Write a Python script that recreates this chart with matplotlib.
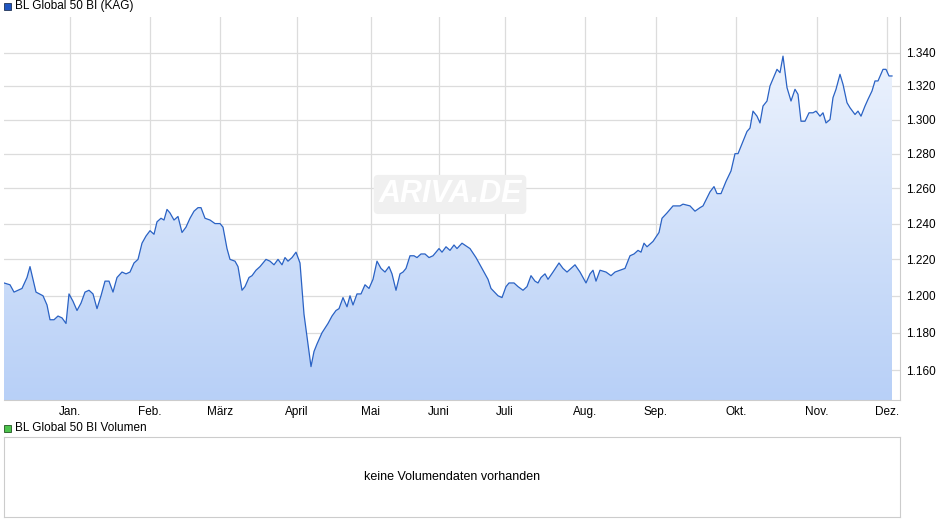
import numpy as np
import matplotlib
matplotlib.use("Agg")
import matplotlib.pyplot as plt
from matplotlib.patches import Polygon

# reading positions along the time axis (chart units) and fund prices
t = [4, 10, 14, 22, 27, 30, 33, 36, 43, 47, 50, 54, 58, 62, 66, 69, 73, 77, 81, 85, 89, 93, 97, 101,
     105, 109, 113, 117, 122, 126, 130, 134, 138, 142, 146, 150, 154, 157, 161, 164, 167, 170, 174,
     178, 182, 186, 190, 194, 198, 201, 205, 210, 215, 220, 223, 227, 230, 235, 238, 242, 245, 249,
     252, 256, 260, 266, 270, 274, 278, 282, 285, 288, 292, 296, 300, 304, 311, 314, 317, 322, 328,
     332, 336, 339, 343, 347, 350, 353, 357, 361, 365, 369, 373, 377, 381, 385, 389, 392, 396, 400,
     403, 406, 410, 414, 417, 421, 425, 429, 433, 439, 442, 446, 450, 454, 457, 462, 470, 476, 477,
     483, 488, 491, 498, 502, 506, 509, 514, 518, 523, 527, 531, 535, 538, 541, 545, 548, 553, 559,
     563, 567, 575, 580, 586, 590, 593, 596, 600, 606, 611, 615, 620, 625, 630, 634, 638, 641, 644,
     647, 653, 659, 662, 667, 673, 680, 683, 690, 695, 700, 703, 710, 714, 717, 721, 726, 731, 735,
     738, 747, 750, 753, 757, 760, 763, 767, 770, 777, 780, 783, 787, 791, 795, 798, 801, 805, 809,
     813, 816, 820, 823, 826, 830, 833, 836, 840, 843, 847, 850, 855, 858, 861, 865, 868, 872, 875,
     878, 883, 886, 889, 892]
price = [1.207, 1.206, 1.202, 1.204, 1.210, 1.216, 1.209, 1.202, 1.200, 1.195, 1.187, 1.187, 1.189,
         1.188, 1.185, 1.201, 1.197, 1.192, 1.196, 1.202, 1.203, 1.201, 1.193, 1.200, 1.208, 1.208,
         1.202, 1.210, 1.213, 1.212, 1.213, 1.218, 1.220, 1.229, 1.233, 1.236, 1.234, 1.241, 1.243,
         1.242, 1.248, 1.246, 1.242, 1.244, 1.235, 1.238, 1.243, 1.247, 1.249, 1.249, 1.243, 1.242,
         1.240, 1.240, 1.238, 1.226, 1.220, 1.219, 1.216, 1.203, 1.205, 1.210, 1.211, 1.214, 1.216,
         1.220, 1.219, 1.217, 1.220, 1.217, 1.221, 1.219, 1.221, 1.224, 1.218, 1.190, 1.162, 1.170,
         1.174, 1.180, 1.185, 1.189, 1.192, 1.193, 1.199, 1.194, 1.200, 1.195, 1.201, 1.201, 1.206,
         1.204, 1.209, 1.219, 1.215, 1.213, 1.216, 1.212, 1.203, 1.212, 1.213, 1.215, 1.222, 1.222,
         1.221, 1.223, 1.223, 1.221, 1.222, 1.226, 1.224, 1.227, 1.225, 1.228, 1.226, 1.229, 1.226,
         1.221, 1.220, 1.214, 1.209, 1.204, 1.200, 1.199, 1.205, 1.207, 1.207, 1.205, 1.203, 1.205,
         1.211, 1.208, 1.207, 1.210, 1.212, 1.209, 1.213, 1.218, 1.215, 1.213, 1.217, 1.213, 1.207,
         1.212, 1.214, 1.208, 1.214, 1.213, 1.211, 1.213, 1.214, 1.215, 1.222, 1.223, 1.225, 1.224,
         1.229, 1.227, 1.230, 1.235, 1.243, 1.246, 1.250, 1.250, 1.251, 1.250, 1.247, 1.249, 1.250,
         1.258, 1.261, 1.257, 1.257, 1.264, 1.270, 1.280, 1.280, 1.293, 1.295, 1.305, 1.302, 1.298,
         1.308, 1.311, 1.320, 1.330, 1.328, 1.338, 1.319, 1.311, 1.318, 1.315, 1.299, 1.299, 1.304,
         1.304, 1.305, 1.302, 1.304, 1.298, 1.300, 1.313, 1.318, 1.327, 1.321, 1.310, 1.307, 1.303,
         1.305, 1.302, 1.308, 1.312, 1.317, 1.323, 1.323, 1.330, 1.330, 1.326, 1.326]

months = ["Jan.", "Feb.", "März", "April", "Mai", "Juni", "Juli", "Aug.", "Sep.", "Okt.", "Nov.", "Dez."]
month_pos = [70, 150, 220, 297, 371, 439, 505, 585, 656, 736, 817, 887]
yticks = [1.16, 1.18, 1.20, 1.22, 1.24, 1.26, 1.28, 1.30, 1.32, 1.34]

plt.rcParams['font.family'] = ['Liberation Sans', 'DejaVu Sans']
fig = plt.figure(figsize=(9.4, 5.26), dpi=100)
ax = fig.add_axes([4 / 940, 126 / 526, 896 / 940, 383 / 526])
ax.set_yscale('log')
ymin, ymax = 1.1445, 1.362
ax.set_xlim(4, 900)
ax.set_ylim(ymin, ymax)

# gradient fill under the line
grad = np.linspace(0, 1, 256).reshape(-1, 1)
cmap = matplotlib.colors.LinearSegmentedColormap.from_list('g', ['#b8d0f7', '#f3f7fe'])
im = ax.imshow(grad, cmap=cmap, aspect='auto', extent=[4, 900, ymin, ymax], origin='lower', zorder=1)
poly = Polygon(list(zip(t, price)) + [(t[-1], ymin), (t[0], ymin)], closed=True,
               transform=ax.transData, facecolor='none', edgecolor='none')
ax.add_patch(poly)
im.set_clip_path(poly)
ax.plot(t, price, color='#2a62c4', lw=0.9, zorder=3)

ax.set_yticks(yticks)
ax.set_yticks([], minor=True)
ax.set_yticklabels(['%.3f' % v for v in yticks], fontsize=8.5)
ax.yaxis.tick_right()
ax.set_xticks(month_pos)
ax.set_xticklabels(months, fontsize=8.5)
ax.tick_params(length=0, pad=4)
ax.grid(True, color='#dcdcdc', lw=0.9, zorder=0)
ax.set_axisbelow(True)
for s in ax.spines.values():
    s.set_visible(False)
ax.spines['right'].set_visible(True)
ax.spines['right'].set_color('#cccccc')
ax.spines['bottom'].set_visible(True)
ax.spines['bottom'].set_color('#cccccc')
ax.text(450, 1.2565, 'ARIVA.DE', fontsize=22, style='italic', fontweight='bold',
        color='white', ha='center', va='center', zorder=2,
        bbox=dict(boxstyle='round,pad=0.15', fc='#f0f0f0', ec='none'))

fig.text(15 / 940, 1 - 6 / 526, 'BL Global 50 BI (KAG)', fontsize=8.5, va='center')
fig.patches.append(matplotlib.patches.Rectangle((4 / 940, 1 - 10 / 526), 7 / 940, 7 / 526,
                   transform=fig.transFigure, fc='#1f55c0', ec='#223355', lw=0.6))

ax2 = fig.add_axes([4 / 940, 9 / 526, 896 / 940, 80 / 526])
ax2.set_xticks([])
ax2.set_yticks([])
for s in ax2.spines.values():
    s.set_color('#cccccc')
ax2.text(0.5, 0.5, 'keine Volumendaten vorhanden', ha='center', va='center', fontsize=9, transform=ax2.transAxes)
fig.text(15 / 940, 1 - 428 / 526, 'BL Global 50 BI Volumen', fontsize=8.5, va='center')
fig.patches.append(matplotlib.patches.Rectangle((4 / 940, 1 - 432 / 526), 7 / 940, 7 / 526,
                   transform=fig.transFigure, fc='#4cc24c', ec='#225522', lw=0.6))

fig.savefig('out.png', dpi=100)
